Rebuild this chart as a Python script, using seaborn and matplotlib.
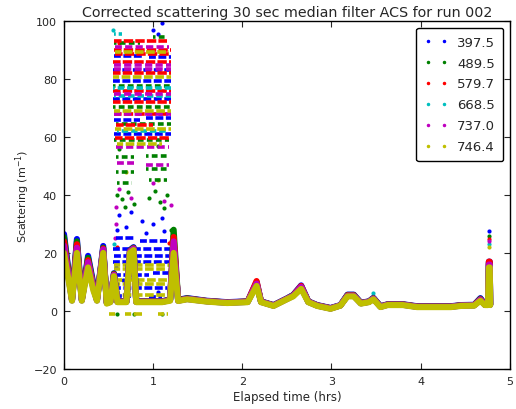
import numpy as np
import pandas as pd
import matplotlib
matplotlib.use("Agg")
import matplotlib.pyplot as plt
from matplotlib.lines import Line2D
import seaborn as sns

# ---------------- data ----------------
wavelengths = ["397.5", "489.5", "579.7", "668.5", "737.0", "746.4"]
colors = ["#0000ff", "#008000", "#ff0000", "#00bfbf", "#bf00bf", "#bfbf00"]

base_t = [0.00, 0.09, 0.145, 0.20, 0.27, 0.33, 0.37, 0.44, 0.48, 0.52, 0.56, 0.60,
          0.70, 0.74, 0.78, 0.81, 0.95, 1.10, 1.19, 1.23, 1.28, 1.38, 1.60, 1.83,
          2.06, 2.16, 2.21, 2.35, 2.50, 2.57, 2.66, 2.74, 2.84, 2.99, 3.10, 3.18,
          3.25, 3.33, 3.42, 3.47, 3.55, 3.63, 3.80, 3.96, 4.15, 4.34, 4.45, 4.60,
          4.67, 4.72, 4.755, 4.765, 4.775, 4.78]

base_397 = [26.5, 4, 24.8, 4, 19, 9.3, 4, 22.4, 3, 3.3, 13, 3.3, 3.3, 21, 22, 3.3, 3.3, 3.3,
            4, 24, 3.8, 4.4, 3.5, 3, 3.3, 10, 3.3, 2, 4.3, 5.5, 8.8, 3.3, 2, 1, 2, 5.6,
            5.6, 2.8, 3.3, 4.5, 1.6, 2.3, 2.3, 1.6, 1.6, 1.6, 2, 2.1, 4.4, 2.3, 2.3, 17, 17, 2.3]
base_489 = [25.5, 3.9, 24, 3.9, 18.3, 8.8, 3.9, 21.8, 2.9, 3.2, 12.8, 3.2, 3.2, 20.8, 21.8, 3.2, 3.2, 3.2,
            3.9, 28, 3.7, 4.3, 3.4, 2.9, 3.2, 9.6, 3.2, 1.9, 4.2, 5.4, 8.5, 3.2, 1.9, 0.9, 1.9, 5.5,
            5.5, 2.7, 3.2, 4.4, 1.5, 2.2, 2.2, 1.5, 1.5, 1.5, 1.9, 2, 4.2, 2.2, 2.2, 16.5, 16.5, 2.2]
base_579 = [24, 3.8, 23, 3.8, 17.5, 8.3, 3.8, 21.5, 2.8, 3.2, 12.6, 3.2, 3.2, 20.6, 21.6, 3.2, 3.2, 3.2,
            3.8, 25.5, 3.6, 4.2, 3.4, 2.9, 3.2, 10.3, 3.2, 1.9, 4.2, 5.3, 8.6, 3.2, 1.9, 0.9, 1.9, 5.4,
            5.4, 2.7, 3.2, 4.3, 1.5, 2.2, 2.2, 1.5, 1.5, 1.5, 1.9, 2, 4, 2.2, 2.2, 17, 17, 2.2]
base_668 = [22, 3.6, 21.5, 3.6, 16.5, 7.8, 3.6, 21, 2.7, 3.1, 12.3, 3.1, 3.1, 20.4, 21.4, 3.1, 3.1, 3.1,
            3.7, 22, 3.5, 4.1, 3.3, 2.8, 3.1, 9.2, 3.1, 1.8, 4.1, 5.2, 8.1, 3.1, 1.8, 0.8, 1.9, 5.2,
            5.2, 2.6, 3.1, 4.2, 1.4, 2.1, 2.1, 1.4, 1.4, 1.4, 1.8, 1.9, 3.8, 2.1, 2.1, 15.5, 15.5, 2.1]
base_737 = [22.5, 3.6, 21.8, 3.6, 16.8, 7.9, 3.6, 21.2, 2.7, 3.1, 12.4, 3.1, 3.1, 20.5, 21.5, 3.1, 3.1, 3.1,
            3.7, 24, 3.5, 4.1, 3.3, 2.8, 3.1, 9.4, 3.1, 1.8, 4.1, 5.2, 8.3, 3.1, 1.8, 0.8, 1.9, 5.2,
            5.2, 2.6, 3.1, 4.2, 1.4, 2.1, 2.1, 1.4, 1.4, 1.4, 1.8, 1.9, 3.9, 2.1, 2.1, 16, 16, 2.1]
base_746 = [20, 3.5, 20, 3.5, 15, 7, 3.5, 20, 2.5, 3, 12, 3, 3, 20, 21, 3, 3, 3,
            3.5, 20, 3.4, 4, 3.2, 2.7, 3, 8.6, 3, 1.7, 4, 5, 7.6, 3, 1.7, 0.7, 1.8, 5,
            5, 2.5, 3, 4, 1.3, 2, 2, 1.3, 1.3, 1.3, 1.7, 1.8, 3.5, 2, 2, 15, 15, 2]

# noisy-period streaks: (start hr, end hr, level)
rows_397 = [(0.56, 0.90, 88), (0.95, 1.20, 87.5), (0.55, 1.20, 83), (0.55, 1.20, 79.3),
            (0.55, 1.20, 73), (0.56, 0.85, 66), (0.92, 1.20, 66.5), (0.56, 1.20, 61),
            (0.58, 0.80, 25), (0.85, 1.15, 24), (0.55, 1.20, 21.5), (0.56, 1.18, 19),
            (0.55, 1.20, 17), (0.56, 0.95, 12.5), (1.00, 1.18, 13), (0.56, 1.15, 8),
            (0.57, 0.75, 5), (0.95, 1.10, 4.8)]
rows_489 = [(0.56, 0.85, 92.5), (1.00, 1.15, 94.5), (0.55, 1.20, 77.6), (0.55, 1.20, 70.3),
            (0.58, 1.20, 64.5), (0.56, 1.18, 59), (0.58, 0.78, 53), (0.92, 1.18, 53.5),
            (0.58, 0.78, 48), (0.92, 1.18, 49), (0.60, 0.76, 44), (0.95, 1.15, 45)]
rows_579 = [(0.56, 1.15, 93), (0.56, 1.20, 90), (0.57, 1.20, 88.5), (0.55, 1.20, 86),
            (0.55, 1.20, 82), (0.55, 1.20, 76), (0.55, 1.20, 72), (0.56, 1.20, 68),
            (0.58, 1.00, 64), (0.57, 1.20, 59.5)]
rows_668 = [(0.56, 0.65, 95.5), (0.55, 1.20, 77), (0.56, 1.20, 74), (0.60, 1.15, 62)]
rows_737 = [(0.57, 1.18, 91), (0.56, 1.20, 85), (0.56, 1.20, 83.5), (0.56, 1.20, 74.8),
            (0.56, 1.20, 68), (0.58, 1.18, 56.5), (0.60, 0.78, 51), (0.92, 1.18, 50.5)]
rows_746 = [(0.57, 1.18, 89.5), (0.55, 1.20, 80.7), (0.56, 1.20, 69), (0.57, 1.20, 62.7),
            (0.60, 1.10, 57.5), (0.56, 1.18, 16), (0.56, 1.15, 14.5), (0.58, 1.18, 10.5),
            (0.56, 1.15, 9.3), (0.56, 1.20, 5.5), (0.50, 0.60, -1), (0.68, 0.87, -1),
            (1.06, 1.17, -1)]

# isolated samples: (hr, value)
pts_397 = [(1.00, 97), (1.05, 95.5), (1.10, 99.5), (0.62, 33), (0.75, 34), (0.88, 31),
           (1.00, 30), (1.10, 32), (0.60, 28), (0.70, 29), (0.92, 27), (1.12, 27.5),
           (0.58, 15), (0.66, 10.5), (0.82, 10), (1.05, 6.5), (4.77, 27.7)]
pts_489 = [(0.60, 40), (0.65, 38.5), (0.72, 41), (0.78, 37), (0.95, 39), (1.02, 41.5),
           (1.08, 37.5), (1.15, 40), (0.68, 36), (1.12, 35.5), (0.62, 56), (1.05, 57),
           (1.20, 28), (1.21, 26), (0.60, -1), (0.78, -1.2), (1.10, -1), (4.77, 26)]
pts_579 = [(1.20, 24), (0.60, 22), (1.18, 23.5), (0.62, 92.5), (4.77, 24.8)]
pts_668 = [(0.56, 23), (1.21, 21.5), (0.55, 97), (3.47, 6), (4.77, 23)]
pts_737 = [(0.62, 42), (0.75, 39), (1.00, 44), (1.12, 38), (0.58, 36), (1.20, 36.5),
           (0.58, 30), (0.57, 25), (4.77, 24.2)]
pts_746 = [(0.70, 48), (1.05, 45), (4.77, 22)]

# ---------------- tables ----------------
bases = [base_397, base_489, base_579, base_668, base_737, base_746]
rows = [rows_397, rows_489, rows_579, rows_668, rows_737, rows_746]
pts = [pts_397, pts_489, pts_579, pts_668, pts_737, pts_746]
dash_styles = [(0.3, (2.2, 0.7)), (0.9, (1.6, 0.9)), (0.5, (2.6, 0.6)),
               (1.3, (1.8, 0.8)), (0.1, (2.0, 0.9)), (0.7, (2.4, 0.7))]

base_df = pd.concat([pd.DataFrame({"t": base_t, "v": b, "series": w})
                     for w, b in zip(wavelengths, bases)], ignore_index=True)

rec = []
seg = 0
for w, rr in zip(wavelengths, rows):
    for (t0, t1, y) in rr:
        rec.append({"t": t0, "v": y, "series": w, "seg": seg})
        rec.append({"t": t1, "v": y, "series": w, "seg": seg})
        seg += 1
rows_df = pd.DataFrame(rec)

pts_df = pd.concat([pd.DataFrame({"t": [p[0] for p in pp], "v": [p[1] for p in pp], "series": w})
                    for w, pp in zip(wavelengths, pts)], ignore_index=True)

palette = dict(zip(wavelengths, colors))

# ---------------- plot ----------------
sns.set_style("ticks")
plt.rcParams["font.family"] = ["DejaVu Sans"]
plt.rcParams["axes.edgecolor"] = "black"
plt.rcParams["axes.linewidth"] = 1.0

fig, ax = plt.subplots(figsize=(5.16, 4.10), dpi=100)
fig.subplots_adjust(left=0.124, right=0.988, bottom=0.098, top=0.946)

for w, ds in zip(wavelengths, dash_styles):
    sub_r = rows_df[rows_df["series"] == w]
    sns.lineplot(data=sub_r, x="t", y="v", units="seg", estimator=None, color=palette[w],
                 linewidth=2.6, linestyle=ds, legend=False, ax=ax)
    sub_p = pts_df[pts_df["series"] == w]
    sns.scatterplot(data=sub_p, x="t", y="v", color=palette[w], s=9, linewidth=0,
                    legend=False, ax=ax)

sns.lineplot(data=base_df, x="t", y="v", hue="series", hue_order=wavelengths, palette=palette,
             estimator=None, sort=False, linewidth=4.4, legend=False, ax=ax)

ax.set_xlim(0, 5)
ax.set_ylim(-20, 100)
ax.set_xticks([0, 1, 2, 3, 4, 5])
ax.set_yticks([-20, 0, 20, 40, 60, 80, 100])
ax.tick_params(direction="in", top=True, right=True, length=4, width=0.8, labelsize=8, pad=5)
ax.set_xlabel("Elapsed time (hrs)", fontsize=8.5, labelpad=3)
ax.set_ylabel(r"Scattering (m$^{-1}$)", fontsize=8, labelpad=1)
ax.set_title("Corrected scattering 30 sec median filter ACS for run 002", fontsize=10.3, pad=4)
for s in ax.spines.values():
    s.set_visible(True)
    s.set_color("black")

handles = [Line2D([], [], color=c, marker=".", markersize=3, linestyle="None") for c in colors]
leg = ax.legend(handles, wavelengths, loc="upper right", numpoints=2, fontsize=9.5,
                frameon=True, fancybox=True, edgecolor="black", framealpha=1,
                handlelength=1.8, handletextpad=0.7, labelspacing=0.6, borderaxespad=0.5,
                borderpad=0.6)
leg.get_frame().set_linewidth(1.0)

fig.savefig("out.png", dpi=100)
